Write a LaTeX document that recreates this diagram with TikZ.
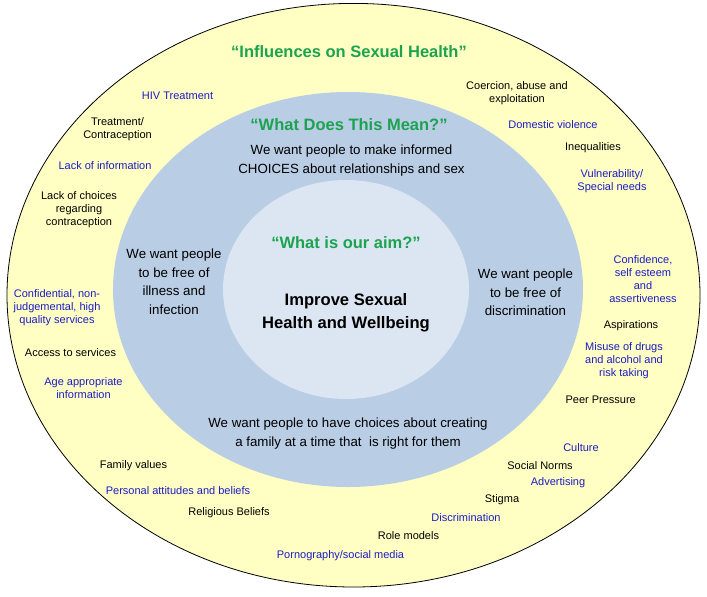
\documentclass[tikz,border=0pt]{standalone}
\usepackage{fontspec}
\setmainfont{Liberation Sans}
\definecolor{outerY}{HTML}{FFFFC4}
\definecolor{midB}{HTML}{B9CDE5}
\definecolor{innB}{HTML}{DCE6F2}
\definecolor{titleG}{HTML}{1BA34F}
\definecolor{lblB}{HTML}{1C1CC8}
\tikzset{
  small/.style={inner sep=0pt, align=center, yshift=-1.2pt, font=\fontsize{11}{13}\selectfont},
  sblue/.style={small, text=lblB},
  sblack/.style={small, text=black},
  medtext/.style={inner sep=0pt, align=center, yshift=-1.2pt, font=\fontsize{13.3}{18.5}\selectfont},
  titletext/.style={inner sep=0pt, align=center, yshift=-1.5pt, text=titleG, font=\fontsize{16.5}{20}\selectfont\bfseries},
  aimtext/.style={inner sep=0pt, align=center, yshift=-1.5pt, font=\fontsize{16.6}{23}\selectfont\bfseries}
}
\begin{document}
\begin{tikzpicture}[x=1pt,y=-1pt]
\useasboundingbox (0,0) rectangle (707,597);
\fill[white] (0,0) rectangle (707,597);
% rings
\draw[fill=outerY, draw=black, line width=0.8pt] (353.5,295.2) ellipse [x radius=346.5, y radius=291.8];
\fill[midB] (348,289.5) ellipse [x radius=235, y radius=197.5];
\fill[innB] (346,289.5) ellipse [x radius=123, y radius=109.5];
% titles
\node[titletext] (t1) at (349,50) {“Influences on Sexual Health”};
\node[titletext] (t2) at (349,122.7) {“What Does This Mean?”};
\node[titletext] (t3) at (346,241) {“What is our aim?”};
% center
\node[aimtext] (aim) at (346,311.5) {Improve Sexual\\Health and Wellbeing};
% middle ring texts
\node[medtext] (mtop) at (351.5,159.5) {We want people to make informed\\CHOICES about relationships and sex};
\node[medtext] (mleft) at (174,280.5) {We want people\\to be free of\\illness and\\infection};
\node[medtext] (mright) at (525.5,291.5) {We want people\\to be free of\\discrimination};
\node[medtext] (mbot) at (348,432.5) {We want people to have choices about creating\\a family at a time that\ \ is right for them};
% outer ring labels, left side
\node[sblue] (hiv) at (177.5,95) {HIV Treatment};
\node[sblack] (treat) at (117.5,127.5) {Treatment/\\Contraception};
\node[sblue] (lackinfo) at (105,164) {Lack of information};
\node[sblack] (lackch) at (79,208.5) {Lack of choices\\regarding\\contraception};
\node[sblue] (conf) at (57,306) {Confidential, non-\\judgemental, high\\quality services};
\node[sblack] (access) at (70.5,351) {Access to services};
\node[sblue] (age) at (83.5,386.5) {Age appropriate\\information};
\node[sblack] (family) at (133.5,464) {Family values};
\node[sblue] (pers) at (178,489) {Personal attitudes and beliefs};
\node[sblack] (relig) at (229,511.7) {Religious Beliefs};
\node[sblue] (porn) at (340.5,554) {Pornography/social media};
% outer ring labels, right side
\node[sblack] (role) at (408.5,534) {Role models};
\node[sblue] (discr) at (466,516) {Discrimination};
\node[sblack] (stigma) at (502,498) {Stigma};
\node[sblue] (advert) at (558,481) {Advertising};
\node[sblack] (social) at (540,464) {Social Norms};
\node[sblue] (culture) at (581,446.7) {Culture};
\node[sblack] (peer) at (600.7,399) {Peer Pressure};
\node[sblue] (misuse) at (624,359) {Misuse of drugs\\and alcohol and\\risk taking};
\node[sblack] (aspir) at (631,324) {Aspirations};
\node[sblue] (confid) at (643,278) {Confidence,\\self esteem\\and\\assertiveness};
\node[sblue] (vuln) at (612,179.5) {Vulnerability/\\Special needs};
\node[sblack] (ineq) at (593,146) {Inequalities};
\node[sblue] (domv) at (553,123.3) {Domestic violence};
\node[sblack] (coerc) at (517,91.5) {Coercion, abuse and\\exploitation};
\end{tikzpicture}
\end{document}
